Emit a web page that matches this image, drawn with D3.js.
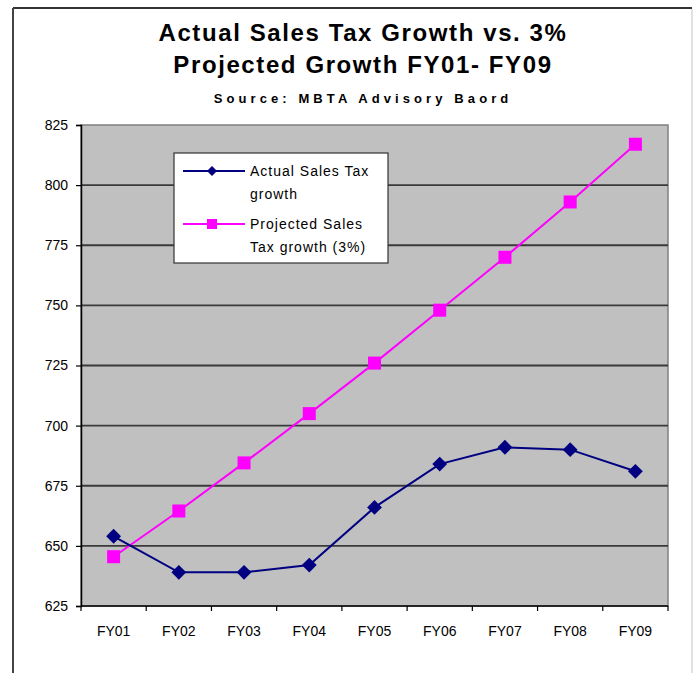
<!DOCTYPE html>
<html>
<head>
<meta charset="utf-8">
<script src="https://cdn.jsdelivr.net/npm/d3@7"></script>
<style>
  html, body { margin: 0; padding: 0; background: #fff; }
  svg { display: block; }
</style>
</head>
<body>
<div id="chart"></div>
<script>
// Данные графика
const years = ["FY01", "FY02", "FY03", "FY04", "FY05", "FY06", "FY07", "FY08", "FY09"];
const actualValues = [654, 639, 639, 642, 666, 684, 691, 690, 681];
const projectedValues = [645.5, 664.5, 684.5, 705, 726, 748, 770, 793, 817];
const yTicks = [625, 650, 675, 700, 725, 750, 775, 800, 825];
const seriesNames = [["Actual Sales Tax", "growth"], ["Projected Sales", "Tax growth (3%)"]];

const width = 694;
const height = 673;
const plot = { left: 81, top: 125, right: 668, bottom: 606 };
const font = "Liberation Sans, Arial, sans-serif";

const svg = d3
  .select("#chart")
  .append("svg")
  .attr("width", width)
  .attr("height", height);

// Рамка всего рисунка
svg.append("line")
  .attr("x1", 13).attr("y1", 8).attr("x2", 692).attr("y2", 8)
  .attr("stroke", "#333").attr("stroke-width", 2);
svg.append("line")
  .attr("x1", 13).attr("y1", 8).attr("x2", 13).attr("y2", height)
  .attr("stroke", "#444").attr("stroke-width", 2);
svg.append("line")
  .attr("x1", 692).attr("y1", 9).attr("x2", 692).attr("y2", height)
  .attr("stroke", "#d8d8d8").attr("stroke-width", 1.5);

// Заголовок
const titleX = 363;
svg.append("text")
  .attr("x", titleX).attr("y", 41)
  .attr("text-anchor", "middle")
  .attr("font-family", font)
  .attr("font-size", "24px").attr("font-weight", "bold")
  .attr("letter-spacing", "1.6px")
  .text("Actual Sales Tax Growth vs. 3%");
svg.append("text")
  .attr("x", titleX).attr("y", 73)
  .attr("text-anchor", "middle")
  .attr("font-family", font)
  .attr("font-size", "24px").attr("font-weight", "bold")
  .attr("letter-spacing", "1.6px")
  .text("Projected Growth FY01- FY09");
svg.append("text")
  .attr("x", titleX).attr("y", 103)
  .attr("text-anchor", "middle")
  .attr("font-family", font)
  .attr("font-size", "13px").attr("font-weight", "bold")
  .attr("letter-spacing", "4.1px")
  .text("Source: MBTA Advisory Baord");

const xScale = d3
  .scaleBand()
  .domain(years)
  .range([plot.left, plot.right]);

const yScale = d3
  .scaleLinear()
  .domain([625, 825])
  .range([plot.bottom, plot.top]);

// Фон области построения
svg.append("rect")
  .attr("x", plot.left).attr("y", plot.top)
  .attr("width", plot.right - plot.left)
  .attr("height", plot.bottom - plot.top)
  .attr("fill", "#c0c0c0")
  .attr("stroke", "#808080").attr("stroke-width", 1.5);

// Сетка по Y
svg.append("g")
  .selectAll("line")
  .data(yTicks.filter((d) => d !== 625 && d !== 825))
  .join("line")
  .attr("x1", plot.left).attr("x2", plot.right)
  .attr("y1", (d) => yScale(d)).attr("y2", (d) => yScale(d))
  .attr("stroke", "#3a3a3a").attr("stroke-width", 1.8);

// Оси
const yAxis = svg.append("g")
  .attr("transform", `translate(${plot.left},0)`)
  .call(d3.axisLeft(yScale).tickValues(yTicks).tickSize(5).tickPadding(8));
yAxis.select(".domain").attr("stroke", "#000").attr("stroke-width", 1.5);
yAxis.selectAll(".tick line").attr("stroke", "#000").attr("stroke-width", 1.2);
yAxis.selectAll("text")
  .attr("font-family", font)
  .attr("font-size", "14px").attr("fill", "#000");

const xAxis = svg.append("g")
  .attr("transform", `translate(0,${plot.bottom})`)
  .call(d3.axisBottom(xScale).tickSize(0).tickPadding(20));
xAxis.select(".domain").remove();
xAxis.selectAll("text")
  .attr("font-family", font)
  .attr("font-size", "14px").attr("fill", "#000");

svg.append("line")
  .attr("x1", plot.left).attr("x2", plot.right)
  .attr("y1", plot.bottom).attr("y2", plot.bottom)
  .attr("stroke", "#000").attr("stroke-width", 1.5);
svg.append("g")
  .selectAll("line")
  .data(d3.range(years.length + 1))
  .join("line")
  .attr("x1", (i) => plot.left + i * xScale.step())
  .attr("x2", (i) => plot.left + i * xScale.step())
  .attr("y1", plot.bottom).attr("y2", plot.bottom + 5)
  .attr("stroke", "#000").attr("stroke-width", 1.2);

// Линии данных
const cx = (d, i) => xScale(years[i]) + xScale.bandwidth() / 2;
const lineGen = d3.line().x(cx).y((d) => yScale(d)).curve(d3.curveLinear);

svg.append("path")
  .datum(projectedValues)
  .attr("fill", "none").attr("stroke", "#ff00ff").attr("stroke-width", 2)
  .attr("d", lineGen);

svg.append("path")
  .datum(actualValues)
  .attr("fill", "none").attr("stroke", "#000080").attr("stroke-width", 2)
  .attr("d", lineGen);

const diamond = d3.symbol().type(d3.symbolSquare).size(110);

svg.append("g")
  .selectAll("rect")
  .data(projectedValues)
  .join("rect")
  .attr("x", (d, i) => cx(d, i) - 6.5)
  .attr("y", (d) => yScale(d) - 6.5)
  .attr("width", 13).attr("height", 13)
  .attr("fill", "#ff00ff");

svg.append("g")
  .selectAll("path")
  .data(actualValues)
  .join("path")
  .attr("transform", (d, i) => `translate(${cx(d, i)},${yScale(d)}) rotate(45)`)
  .attr("d", diamond)
  .attr("fill", "#000080");

// Легенда
const legend = svg.append("g");
legend.append("rect")
  .attr("x", 174).attr("y", 153).attr("width", 214).attr("height", 110)
  .attr("fill", "#fff").attr("stroke", "#333").attr("stroke-width", 1.2);

const legendItems = [
  { color: "#000080", y: 171, names: seriesNames[0], marker: "diamond" },
  { color: "#ff00ff", y: 224, names: seriesNames[1], marker: "square" },
];

legendItems.forEach((item) => {
  legend.append("line")
    .attr("x1", 183).attr("x2", 245)
    .attr("y1", item.y).attr("y2", item.y)
    .attr("stroke", item.color).attr("stroke-width", 2);
  if (item.marker === "diamond") {
    legend.append("path")
      .attr("transform", `translate(212,${item.y}) rotate(45)`)
      .attr("d", d3.symbol().type(d3.symbolSquare).size(50))
      .attr("fill", item.color);
  } else {
    legend.append("rect")
      .attr("x", 207).attr("y", item.y - 5).attr("width", 10).attr("height", 10)
      .attr("fill", item.color);
  }
  item.names.forEach((name, k) => {
    legend.append("text")
      .attr("x", 250).attr("y", item.y + 5 + k * 23)
      .attr("font-family", font)
      .attr("font-size", "14px").attr("letter-spacing", "1px")
      .attr("fill", "#000")
      .text(name);
  });
});
</script>
</body>
</html>
